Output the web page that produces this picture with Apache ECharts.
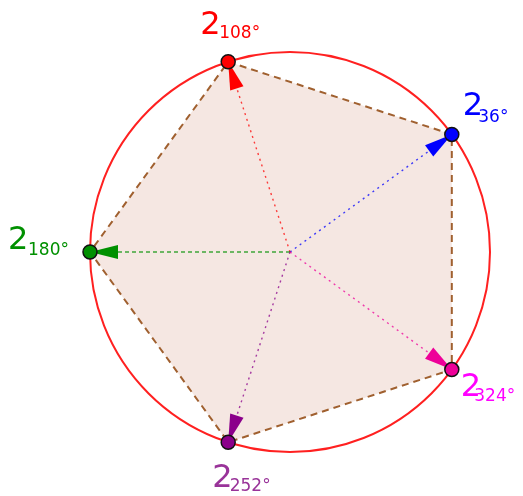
<!DOCTYPE html>
<html>
<head>
<meta charset="utf-8">
<script src="https://cdn.jsdelivr.net/npm/echarts@6/dist/echarts.min.js"></script>
<style>html,body{margin:0;padding:0;background:#fff}#c{width:523px;height:496px}</style>
</head>
<body>
<div id="c"></div>
<script>
// Data: the five values 2·e^{iθ}
const moduli = [2, 2, 2, 2, 2];
const anglesDeg = [36, 108, 180, 252, 324];
const labelMain = ['2', '2', '2', '2', '2'];
const labelSub = ['36°', '108°', '180°', '252°', '324°'];

// Styles (not data)
const pointColors = ['#0000ff', '#ff0000', '#009000', '#8b008b', '#ee0099'];
const labelColors = ['#0000ff', '#ff0000', '#009000', '#993399', '#ff00ff'];
const lineDashes = [[2, 4], [2, 4], [4, 3], [2, 4], [2, 4]];
const mainOff = [[11, -28], [-28, -36], [-82, -11], [-16, 36], [9, 18]];
const subOff = [[26.5, -17], [-9, -28], [-62, -1], [1.5, 44], [22.5, 27]];

const polarData = moduli.map((r, i) => [r, anglesDeg[i]]);

const chart = echarts.init(document.getElementById('c'), null, {renderer: 'canvas'});
chart.setOption({
  animation: false,
  backgroundColor: '#ffffff',
  polar: {center: [290, 252], radius: 200},
  angleAxis: {
    type: 'value', min: 0, max: 360, startAngle: 0, clockwise: false,
    axisLine: {show: true, lineStyle: {color: '#ff2020', width: 2}},
    axisTick: {show: false}, axisLabel: {show: false}, splitLine: {show: false}
  },
  radiusAxis: {
    type: 'value', min: 0, max: 2,
    axisLine: {show: false}, axisTick: {show: false}, axisLabel: {show: false}, splitLine: {show: false}
  },
  series: [
    {
      type: 'custom', coordinateSystem: 'polar', z: 1, silent: true,
      data: [polarData[0]],
      renderItem: function (params, api) {
        const pts = polarData.map(d => api.coord(d));
        return {
          type: 'group', children: [
            {type: 'polygon', shape: {points: pts}, style: {fill: '#f5e7e2', stroke: null}},
            {type: 'polygon', shape: {points: pts}, style: {fill: null, stroke: '#a0602f', lineWidth: 2, lineDash: [7, 5]}}
          ]
        };
      }
    },
    {
      type: 'custom', coordinateSystem: 'polar', z: 3, silent: true,
      data: polarData,
      renderItem: function (params, api) {
        const i = params.dataIndex;
        const r = api.value(0), a = api.value(1);
        const c = api.coord([0, a]);
        const p = api.coord([r, a]);
        const dx = p[0] - c[0], dy = p[1] - c[1];
        const L = Math.sqrt(dx * dx + dy * dy);
        const ux = dx / L, uy = dy / L;
        const headLen = 28, hw = 7;
        const bx = p[0] - ux * headLen, by = p[1] - uy * headLen;
        const col = pointColors[i];
        return {
          type: 'group', children: [
            {type: 'line', shape: {x1: c[0], y1: c[1], x2: bx, y2: by},
              style: {stroke: col, lineWidth: 1.4, lineDash: lineDashes[i], opacity: 0.75}},
            {type: 'polygon', shape: {points: [p, [bx - uy * hw, by + ux * hw], [bx + uy * hw, by - ux * hw]]},
              style: {fill: col}},
            {type: 'text', style: {text: labelMain[i], x: p[0] + mainOff[i][0], y: p[1] + mainOff[i][1],
              fill: labelColors[i], fontSize: 32, fontFamily: 'DejaVu Sans', verticalAlign: 'middle', align: 'left'}},
            {type: 'text', style: {text: labelSub[i], x: p[0] + subOff[i][0], y: p[1] + subOff[i][1],
              fill: labelColors[i], fontSize: 17, fontFamily: 'DejaVu Sans', verticalAlign: 'middle', align: 'left'}}
          ]
        };
      }
    },
    {
      type: 'scatter', coordinateSystem: 'polar', z: 5, silent: true,
      symbol: 'circle', symbolSize: 14,
      data: polarData.map((d, i) => ({value: d, itemStyle: {color: pointColors[i], opacity: 1, borderColor: '#111', borderWidth: 1.5}}))
    }
  ]
});
</script>
</body>
</html>
